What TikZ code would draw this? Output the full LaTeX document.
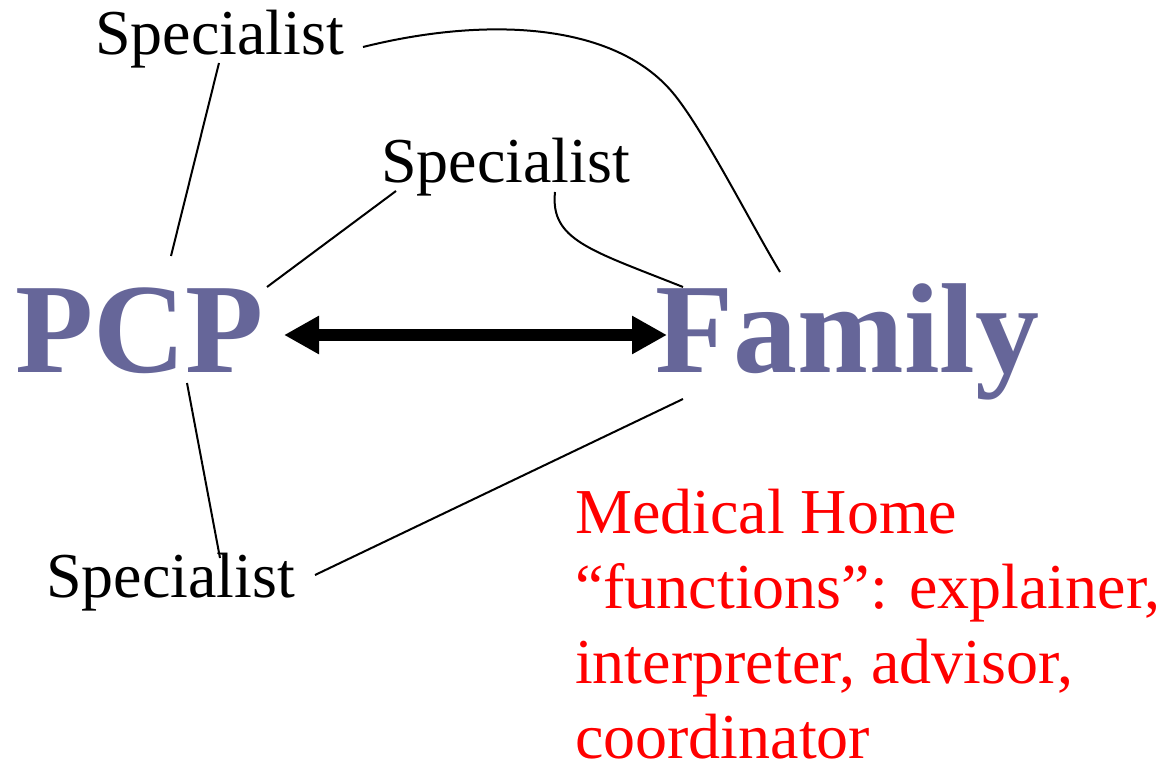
\documentclass[tikz,border=0pt]{standalone}
\usepackage{fontspec}
\setmainfont{Liberation Serif}
\usetikzlibrary{arrows.meta,calc}
\definecolor{famcol}{RGB}{102,102,153}
\definecolor{redtxt}{RGB}{255,0,0}
\tikzset{
  spec/.style={anchor=base west,inner sep=0pt,font=\fontsize{64}{76}\selectfont},
  big/.style={anchor=base west,inner sep=0pt,text=famcol,font=\fontsize{128}{140}\selectfont\bfseries},
  note/.style={anchor=north west,inner sep=0pt,align=left,text=redtxt,font=\fontsize{64}{75}\selectfont},
  link/.style={draw=black,line width=2pt},
  bigarrow/.style={draw=black,line width=12pt,{Triangle[length=35pt,width=36pt]}-{Triangle[length=35pt,width=36pt]}}
}
\begin{document}
\begin{tikzpicture}[x=1pt,y=-1pt]
\useasboundingbox (0,0) rectangle (1162,767);
\node[spec] (sp1) at (95,55) {Specialist};
\node[spec] (sp2) at (381,183) {Specialist};
\node[spec] (sp3) at (46,597) {Specialist};
\node[big] (pcp) at (15,372) {PCP};
\node[big] (family) at (655,372) {Family};
\node[note] (notes) at (575,489) {Medical Home\\``functions'': explainer,\\interpreter, advisor,\\coordinator};
\coordinate (bend) at (673,93);
% connectors
\draw[link] ($(sp1.base west)+(124,8)$) -- ($(pcp.base west)+(156,-116)$);
\draw[link] ($(sp1.base west)+(268,-8)$) .. controls +(120,-30) and +(-60,-72) .. (bend)
            .. controls +(30,36) and +(-30,-50) .. ($(family.base west)+(125,-100)$);
\draw[link] ($(sp2.base west)+(15,8)$) -- ($(pcp.base west)+(252,-85)$);
\draw[link] ($(sp2.base west)+(174,9)$) .. controls +(-5,48) and +(-93,-37) .. ($(family.base west)+(28,-85)$);
\draw[link] ($(pcp.base west)+(172,11)$) -- ($(sp3.base west)+(174,-39)$);
\draw[link] ($(sp3.base west)+(269,-22)$) -- ($(family.base west)+(28,27)$);
\draw[bigarrow] ($(pcp.base west)+(269,-37)$) -- ($(family.base west)+(12,-37)$);
\end{tikzpicture}
\end{document}
